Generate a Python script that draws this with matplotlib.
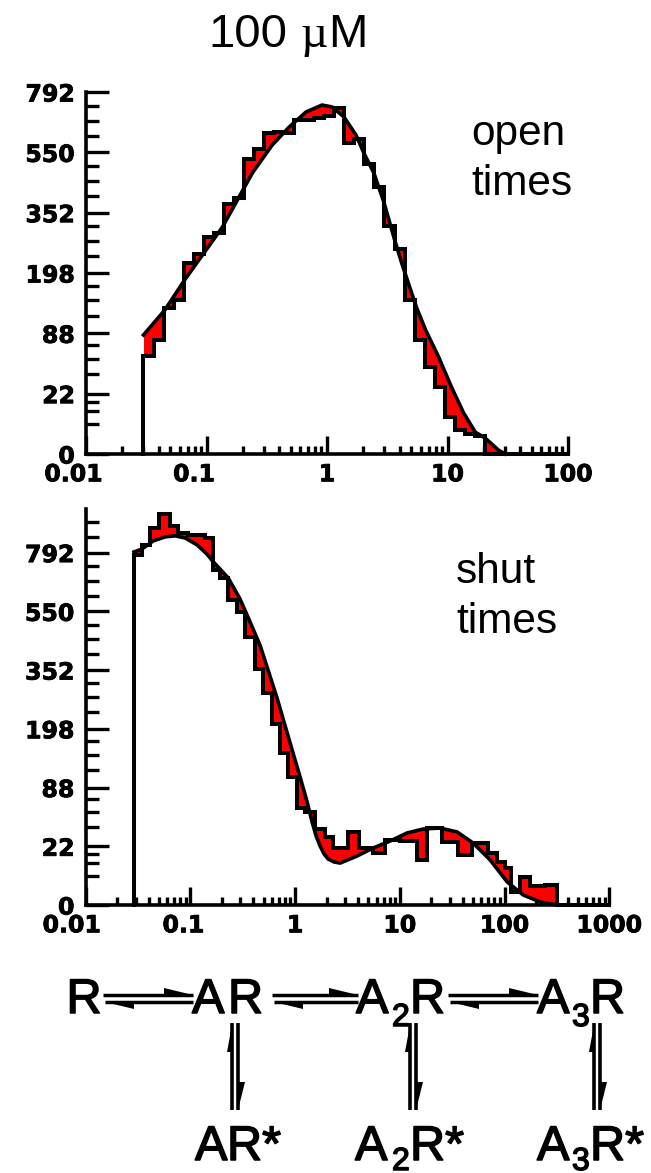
import numpy as np
import matplotlib
matplotlib.use('Agg')
import matplotlib.pyplot as plt
import matplotlib.patheffects as pe
from matplotlib.transforms import ScaledTranslation

W, H = 651, 1173

# open times histogram (bin edges in ms, counts per sqrt scale)
open_edges = [0.03, 0.03634, 0.04403, 0.05335, 0.06463, 0.0783, 0.09487, 0.1149, 0.1392,
              0.1687, 0.2044, 0.2476, 0.3, 0.3634, 0.4403, 0.5335, 0.6463, 0.783, 0.9487,
              1.149, 1.392, 1.687, 2.044, 2.476, 3.0, 3.634, 4.403, 5.335, 6.463, 7.83,
              9.487, 11.49, 13.92, 16.87, 20.44, 100]
open_counts = [58, 79, 129, 143, 220, 242, 285, 295, 378, 396, 526, 563, 623, 627, 623,
               676, 676, 684, 691, 724, 585, 600, 510, 432, 313, 253, 143, 79, 46, 27,
               8.3, 3.5, 2.4, 2, 0]
open_fit_x = [0.03, 0.045, 0.0658, 0.1355, 0.1945, 0.24, 0.351, 0.485, 0.67, 0.91, 1.1,
              1.38, 1.74, 2.02, 2.45, 2.96, 3.58, 4.17, 4.94, 5.55, 6.58, 8.43, 10.8,
              13.6, 17.0, 20.6, 26.4, 30.1]
open_fit_y = [85.6, 125, 183, 311, 412, 477, 577, 646, 707, 736, 728, 687, 615, 548, 477,
              384, 285, 220, 163, 129, 93, 57, 27, 10.2, 2.9, 1.5, 0.1, 0]

# shut times histogram
shut_edges = [0.02899, 0.03457, 0.04123, 0.05023, 0.064, 0.07631, 0.09506, 0.1159, 0.1382,
              0.1647, 0.1922, 0.2291, 0.2793, 0.333, 0.415, 0.4948, 0.6032, 0.7191, 0.8573,
              1.045, 1.246, 1.552, 1.934, 2.306, 3.208, 4.087, 5.559, 7.238, 10.07, 14.63,
              18.23, 25.35, 36.06, 49.04, 69.7, 85.0, 101.3, 115.6, 140.9, 175.6, 244.2,
              317.9, 1000]
shut_counts = [782, 827, 908, 974, 916, 883, 873, 871, 860, 716, 682, 593, 548, 458, 355,
               287, 209, 147, 104.5, 60, 55, 36.8, 29.5, 20.7, 34, 20.7, 17.2, 27, 26, 12.9,
               37.8, 25.3, 16, 24.5, 17.2, 11.8, 8.7, 1.08, 5, 2.3, 2.55, 0]
shut_fit_x = [0.029, 0.03457, 0.04402, 0.0573, 0.0714, 0.089, 0.1159, 0.1444, 0.1647, 0.2291,
              0.2983, 0.3717, 0.4632, 0.5522, 0.6732, 0.8025, 0.957, 1.116, 1.302, 1.453,
              1.587, 1.733, 1.892, 2.066, 2.359, 2.691, 3.91, 5.559, 8.08, 11.74, 16.69,
              24.26, 35.26, 50.1, 72.9, 105.9, 150.6, 218.8, 317.9]
shut_fit_y = [795, 808, 845, 864, 869, 859, 827, 785, 752, 683, 597, 511, 430, 352, 273, 205,
              147, 104.5, 68, 44, 30.4, 22.2, 16.6, 13.5, 11.8, 11.2, 15.3, 20.7, 26.1, 33.1,
              36.8, 37.8, 34, 24.5, 12.9, 3.4, 0.64, 0.06, 0]

y_major = [0, 22, 88, 198, 352, 550, 792]
y_labels = ['0', '22', '88', '198', '352', '550', '792']
y_minor = [5.5, 11, 16.5, 38.5, 55, 71.5, 115.5, 143, 170.5, 236.5, 275, 313.5,
           401.5, 451, 500.5, 610.5, 671, 731.5, 863.5, 935]
x_minor_digits = [2, 3, 4, 5, 6, 7, 8, 9]

heavy = [pe.withStroke(linewidth=0.6, foreground='k')]


def make_axes(fig, left, right, top, bottom, xmax, ymax, decades, labels, shifts,
              edges, counts, fx, fy):
    ax = fig.add_axes([left / W, 1 - bottom / H, (right - left) / W, (bottom - top) / H])
    ax.set_xscale('log')
    ax.set_yscale('function', functions=(lambda v: np.sqrt(np.maximum(v, 0)), lambda v: v ** 2))

    edges = np.array(edges)
    counts = np.array(counts, dtype=float)
    fx = np.array(fx)
    fy = np.array(fy, dtype=float)

    # red area between histogram and fit
    xf = np.geomspace(edges[0], fx[-1], 4000)
    idx = np.clip(np.searchsorted(edges, xf, side='right') - 1, 0, len(counts) - 1)
    ax.fill_between(xf, counts[idx], np.interp(np.log10(xf), np.log10(fx), fy),
                    color='#ff0000', lw=0, zorder=2)

    # histogram outline
    hx = np.repeat(edges, 2)
    hy = np.concatenate([[0], np.repeat(counts, 2), [0]])
    ax.plot(hx, hy, color='k', lw=2.9, solid_joinstyle='miter', zorder=3, clip_on=False)
    ax.plot(fx, fy, color='k', lw=2.6, zorder=4, clip_on=False)

    for s in ['top', 'right']:
        ax.spines[s].set_visible(False)
    for s in ['left', 'bottom']:
        ax.spines[s].set_linewidth(2.6)

    minors = [d * m for d in decades[:-1] for m in x_minor_digits]
    ax.set_xticks(decades)
    ax.set_xticklabels(labels)
    ax.set_xticks(minors, minor=True)
    ax.set_xticklabels([], minor=True)
    ax.set_yticks(y_major)
    ax.set_yticklabels(y_labels)
    ax.set_yticks([v for v in y_minor if v < ymax], minor=True)
    ax.set_yticklabels([], minor=True)
    ax.set_xlim(0.01, xmax)
    ax.set_ylim(0, ymax)
    ax.tick_params(axis='x', which='major', direction='in', length=13, width=2.4, pad=6)
    ax.tick_params(axis='x', which='minor', direction='in', length=5.8, width=2.4)
    ax.tick_params(axis='y', which='major', direction='in', length=16.5, width=2.4, pad=8)
    ax.tick_params(axis='y', which='minor', direction='in', length=9.4, width=2.4)
    for t in ax.get_xticklabels() + ax.get_yticklabels():
        t.set_fontsize(17)
        t.set_fontweight('bold')
        t.set_fontfamily('DejaVu Sans')
        t.set_path_effects(heavy)
    # the outer labels sit to the left of their ticks in the original
    for t, dx in zip(ax.get_xticklabels(), shifts):
        t.set_transform(t.get_transform() + ScaledTranslation(dx / 72, 0, fig.dpi_scale_trans))
    return ax


fig = plt.figure(figsize=(W / 100, H / 100), dpi=100)

make_axes(fig, 86, 568, 92, 454, 100, 792, [0.01, 0.1, 1, 10, 100],
          ['0.01', '0.1', '1', '10', '100'], [-9, -9, 0, 0, 0],
          open_edges, open_counts, open_fit_x, open_fit_y)
make_axes(fig, 85.6, 609.3, 509, 905, 1000, 1000, [0.01, 0.1, 1, 10, 100, 1000],
          ['0.01', '0.1', '1', '10', '100', '1000'], [-10, -5, 0, 0, 0, 0],
          shut_edges, shut_counts, shut_fit_x, shut_fit_y)

# overlay in pixel coordinates for labels and reaction scheme
ov = fig.add_axes([0, 0, 1, 1])
ov.set_xlim(0, W)
ov.set_ylim(H, 0)
ov.axis('off')
ov.patch.set_alpha(0)

sans = 'Liberation Sans'
ov.text(208, 47, '100', family=sans, fontsize=34, va='baseline')
ov.text(300, 47, 'µ', family='Liberation Serif', fontsize=34, va='baseline')
ov.text(328, 47, 'M', family=sans, fontsize=34, va='baseline')
ov.text(471, 145, 'open', family=sans, fontsize=30.5, va='baseline')
ov.text(471, 195, 'times', family=sans, fontsize=30.5, va='baseline')
ov.text(456, 583, 'shut', family=sans, fontsize=30.5, va='baseline')
ov.text(456, 633, 'times', family=sans, fontsize=30.5, va='baseline')

thick = [pe.withStroke(linewidth=1.1, foreground='k')]


def chem(x, y, s, size=35):
    ov.text(x, y, s, family=sans, fontsize=size, va='baseline', path_effects=thick)


chem(66.5, 1013, 'R')
chem(192, 1013, 'A')
chem(228, 1013, 'R')
chem(356, 1013, 'A')
chem(392, 1026, '2', 23)
chem(410, 1013, 'R')
chem(537, 1013, 'A')
chem(572, 1026, '3', 23)
chem(590, 1013, 'R')
chem(195, 1160, 'A')
chem(227, 1160, 'R*')
chem(355, 1160, 'A')
chem(392, 1170, '2', 23)
chem(410, 1160, 'R*')
chem(537, 1160, 'A')
chem(572, 1170, '3', 23)
chem(590, 1160, 'R*')


def harrow(x0, x1):
    ov.plot([x0, x1], [994.5, 994.5], color='k', lw=2.5, solid_capstyle='butt')
    ov.plot([x0 + 2, x1], [1002, 1002], color='k', lw=2.5, solid_capstyle='butt')
    ov.fill([x1 - 29, x1, x1 - 29], [988, 995, 995], color='k', lw=0)
    ov.fill([x0 + 2, x0 + 31, x0 + 31], [1002, 1002, 1008.5], color='k', lw=0)


def varrow(x):
    ov.plot([x, x], [1023, 1110], color='k', lw=2.6, solid_capstyle='butt')
    ov.plot([x + 6, x + 6], [1023, 1110], color='k', lw=2.6, solid_capstyle='butt')
    ov.fill([x, x, x - 5], [1025, 1052, 1052], color='k', lw=0)
    ov.fill([x + 6, x + 6, x + 13], [1110, 1082, 1082], color='k', lw=0)


harrow(103, 193)
harrow(272, 358)
harrow(448, 538)
varrow(232)
varrow(410)
varrow(594)

fig.savefig('out.png', dpi=100)
